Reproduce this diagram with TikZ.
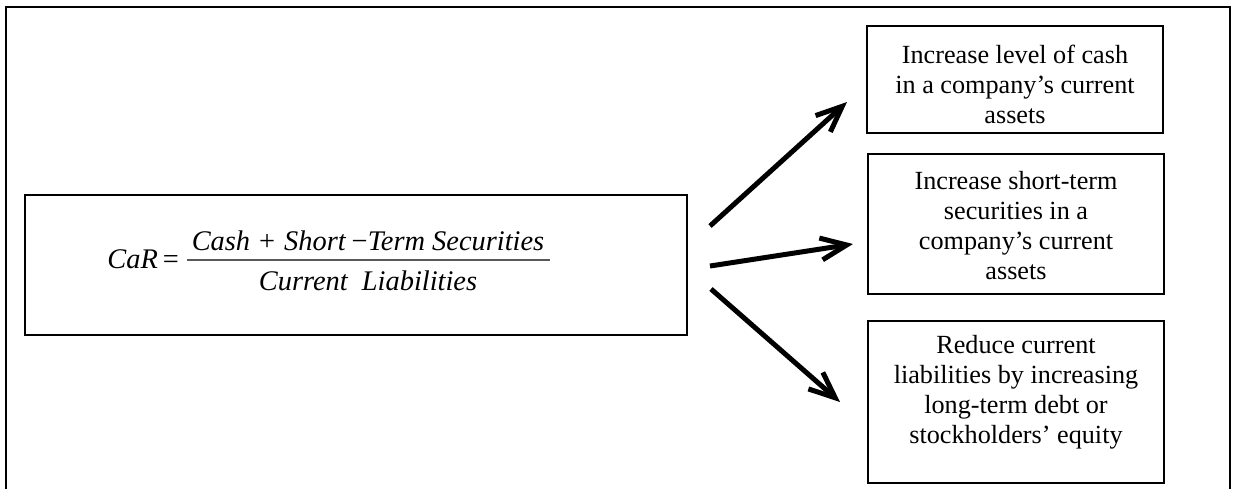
\documentclass[tikz,border=0pt]{standalone}
\usepackage{fontspec}
\setmainfont{Liberation Serif}
\usetikzlibrary{arrows.meta}
\begin{document}
\begin{tikzpicture}[x=0.5pt,y=-0.5pt,
  box/.style={draw, line width=1pt, inner sep=0pt},
  txt/.style={align=center, font=\fontsize{13.1}{15}\selectfont, inner sep=0pt},
  ftxt/.style={inner sep=0pt, font=\fontsize{14.2}{16}\selectfont\itshape},
  arr/.style={line width=2.5pt, -{Straight Barb[length=13pt,width=11pt,line width=2.5pt]}},
  frame/.style={line width=1.4pt}]
\useasboundingbox (0,0) rectangle (1235,489);
\draw[frame] (6,489) -- (6,7) -- (1230,7) -- (1230,489);
% formula box
\node[box, minimum width=331pt, minimum height=70pt] (f) at (356,265) {};
\node[ftxt, anchor=base west] (lhs) at (107,268) {CaR\hspace{2.5pt}\upshape =};
\node[ftxt, anchor=base] (num) at (368,250) {Cash\hspace{4.5pt}{\upshape +}\hspace{4.5pt}Short\hspace{3pt}{\upshape −}Term Securities};
\node[ftxt, anchor=base] (den) at (368,290) {Current\enspace Liabilities};
\coordinate (bar1) at (187,260); \coordinate (bar2) at (550,260);
\draw[line width=0.85pt, black!65] (bar1) -- (bar2);
% right boxes
\node[box, minimum width=148pt, minimum height=53.5pt] (b1) at (1015,79.5) {};
\node[txt] (t1) at (1015,84) {Increase level of cash\\in a company’s current\\assets};
\node[box, minimum width=148pt, minimum height=70pt] (b2) at (1016,224) {};
\node[txt] (t2) at (1016,225.5) {Increase short-term\\securities in a\\company’s current\\assets};
\node[box, minimum width=148pt, minimum height=81pt] (b3) at (1016,402) {};
\node[txt] (t3) at (1016,392) {Reduce current\\liabilities by increasing\\long-term debt or\\stockholders’ equity};
% arrows
\coordinate (s1) at (710,226); \coordinate (e1) at (847,102);
\coordinate (s2) at (710,266); \coordinate (e2) at (853,244);
\coordinate (s3) at (711,289); \coordinate (e3) at (840,402);
\draw[arr] (s1) -- (e1);
\draw[arr] (s2) -- (e2);
\draw[arr] (s3) -- (e3);
\end{tikzpicture}
\end{document}
